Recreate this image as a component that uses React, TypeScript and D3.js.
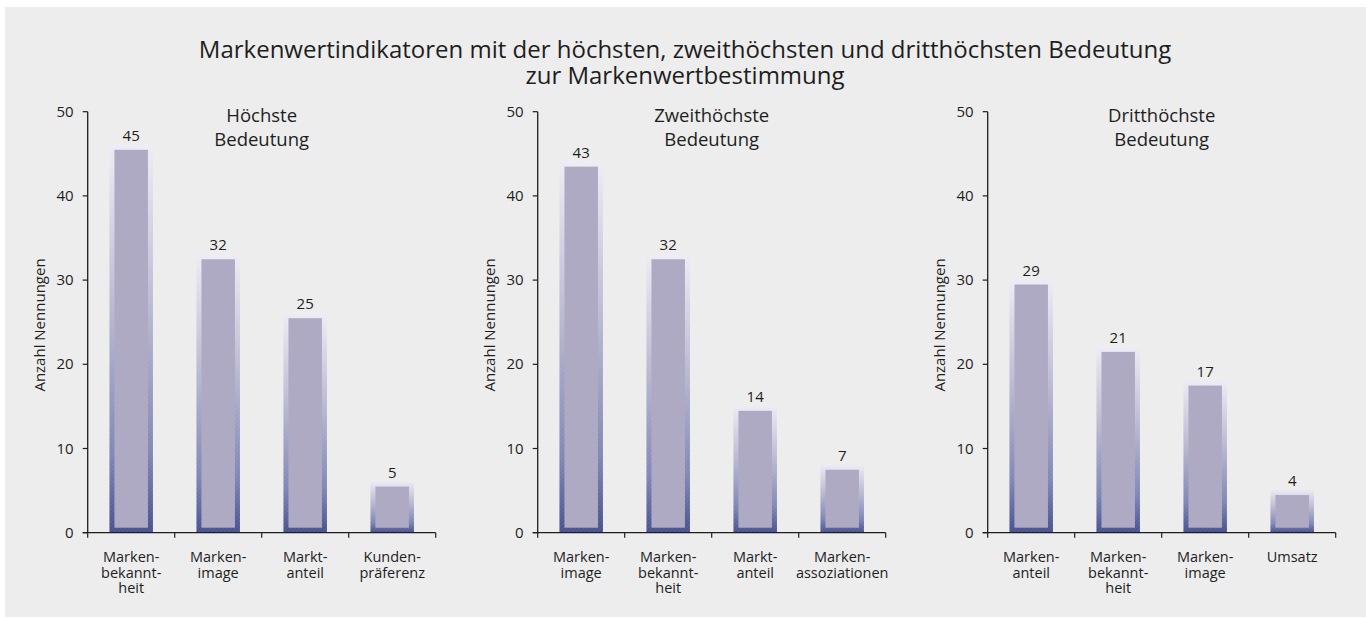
import * as d3 from 'd3';

const W = 1370;
const H = 618;

const title1 = 'Markenwertindikatoren mit der höchsten, zweithöchsten und dritthöchsten Bedeutung';
const title2 = 'zur Markenwertbestimmung';
const yLabel = 'Anzahl Nennungen';
const yTicks = [0, 10, 20, 30, 40, 50];

const panelTitles = [
  ['Höchste', 'Bedeutung'],
  ['Zweithöchste', 'Bedeutung'],
  ['Dritthöchste', 'Bedeutung'],
];

const cats1 = [['Marken-', 'bekannt-', 'heit'], ['Marken-', 'image'], ['Markt-', 'anteil'], ['Kunden-', 'präferenz']];
const vals1 = [45, 32, 25, 5];

const cats2 = [['Marken-', 'image'], ['Marken-', 'bekannt-', 'heit'], ['Markt-', 'anteil'], ['Marken-', 'assoziationen']];
const vals2 = [43, 32, 14, 7];

const cats3 = [['Marken-', 'anteil'], ['Marken-', 'bekannt-', 'heit'], ['Marken-', 'image'], ['Umsatz']];
const vals3 = [29, 21, 17, 4];

const panels = [
  { title: panelTitles[0], cats: cats1, vals: vals1 },
  { title: panelTitles[1], cats: cats2, vals: vals2 },
  { title: panelTitles[2], cats: cats3, vals: vals3 },
];

const FONT = "'Open Sans', 'DejaVu Sans', sans-serif";
const INK = '#1e1e1e';

function Panel({ left, title, cats, vals }: { left: number; title: string[]; cats: string[][]; vals: number[] }) {
  const plotW = 348;
  const y = d3.scaleLinear().domain([0, 50]).range([532.7, 111.7]);
  const keys = cats.map((c) => c.join(''));
  const x = d3.scaleBand<string>().domain(keys).range([left, left + plotW]).paddingInner(0.5).paddingOuter(0.25);
  const step = x.step();
  const frame = 5;

  return (
    <g>
      {/* subtitle */}
      <text x={left + plotW / 2} y={122} textAnchor="middle" fontSize={18.5} fill={INK} fontFamily={FONT}>
        {title.map((t, i) => (
          <tspan key={i} x={left + plotW / 2} dy={i === 0 ? 0 : 24}>
            {t}
          </tspan>
        ))}
      </text>

      {/* y axis label */}
      <text
        transform={`translate(${left - 43},325) rotate(-90)`}
        textAnchor="middle"
        fontSize={15}
        fill={INK}
        fontFamily={FONT}
      >
        {yLabel}
      </text>

      {/* bars */}
      {vals.map((v, i) => {
        const bx = x(keys[i])!;
        const bw = x.bandwidth();
        const innerTop = y(v) - 4;
        const outerTop = innerTop - 6;
        const base = y(0);
        return (
          <g key={i}>
            <rect x={bx} y={outerTop} width={bw} height={base - outerTop} fill="url(#frameGrad)" />
            <rect x={bx} y={outerTop} width={bw} height={base - outerTop} fill="url(#hatch)" />
            <rect
              x={bx + frame}
              y={innerTop}
              width={bw - frame * 2}
              height={base - frame - innerTop}
              fill="#aeaac4"
            />
            <text x={bx + bw / 2} y={outerTop - 3} textAnchor="middle" fontSize={15} fill={INK} fontFamily={FONT}>
              {v}
            </text>
          </g>
        );
      })}

      {/* y axis */}
      <line x1={left} x2={left} y1={y(50)} y2={y(0)} stroke={INK} strokeWidth={1.3} />
      {yTicks.map((t) => (
        <g key={t}>
          <line x1={left - 5} x2={left} y1={y(t)} y2={y(t)} stroke={INK} strokeWidth={1.2} />
          <text x={left - 14} y={y(t) + 5} textAnchor="end" fontSize={15} fill={INK} fontFamily={FONT}>
            {t}
          </text>
        </g>
      ))}

      {/* x axis */}
      <line x1={left - 5} x2={left + plotW} y1={y(0)} y2={y(0)} stroke={INK} strokeWidth={1.3} />
      {d3.range(keys.length + 1).map((i) => (
        <line
          key={i}
          x1={left + i * step}
          x2={left + i * step}
          y1={y(0)}
          y2={y(0) + 5}
          stroke={INK}
          strokeWidth={1.2}
        />
      ))}
      {cats.map((lines, i) => (
        <text
          key={i}
          x={x(keys[i])! + x.bandwidth() / 2}
          y={562}
          textAnchor="middle"
          fontSize={14.5}
          fill={INK}
          fontFamily={FONT}
        >
          {lines.map((l, j) => (
            <tspan key={j} x={x(keys[i])! + x.bandwidth() / 2} dy={j === 0 ? 0 : 15.5}>
              {l}
            </tspan>
          ))}
        </text>
      ))}
    </g>
  );
}

export default function App() {
  return (
    <div style={{ position: 'fixed', left: 0, top: 0 }}>
      <svg width={W} height={H} style={{ display: 'block', background: '#ffffff' }}>
        <defs>
          <linearGradient id="frameGrad" x1="0" y1="0" x2="0" y2="1">
            <stop offset="0" stopColor="#eeecf4" />
            <stop offset="0.45" stopColor="#b6b5d0" />
            <stop offset="0.8" stopColor="#7e86b4" />
            <stop offset="1" stopColor="#46508e" />
          </linearGradient>
          <pattern id="hatch" width="3" height="3" patternUnits="userSpaceOnUse" patternTransform="rotate(45)">
            <line x1="0" y1="0" x2="0" y2="3" stroke="#ffffff" strokeWidth="0.8" strokeOpacity="0.18" />
          </pattern>
        </defs>
        <rect x={5} y={7} width={1361} height={610} fill="#ededed" />
        <text x={685} y={58} textAnchor="middle" fontSize={24} fill={INK} fontFamily={FONT}>
          {title1}
        </text>
        <text x={685} y={84} textAnchor="middle" fontSize={24} fill={INK} fontFamily={FONT}>
          {title2}
        </text>
        {panels.map((p, i) => (
          <Panel key={i} left={87.7 + i * 450} title={p.title} cats={p.cats} vals={p.vals} />
        ))}
      </svg>
    </div>
  );
}
